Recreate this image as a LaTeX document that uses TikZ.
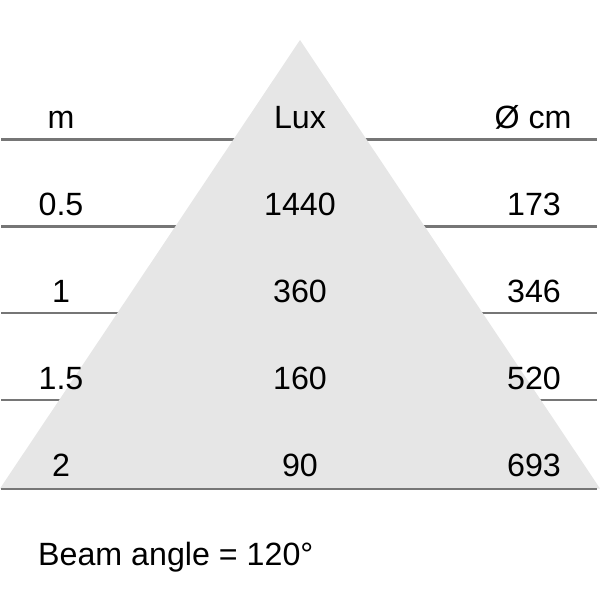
\documentclass[tikz,border=0pt]{standalone}
\usepackage{fontspec}
\setmainfont{Liberation Sans}
\definecolor{rulegray}{RGB}{118,118,118}
\definecolor{beamfill}{RGB}{230,230,230}
\begin{document}
\begin{tikzpicture}[x=1pt,y=-1pt,
  rulel/.style={draw=rulegray,line width=2.2pt},
  beam/.style={fill=beamfill,draw=none},
  lbl/.style={anchor=base,inner sep=0pt,font=\fontsize{32.2}{36}\selectfont}]
\useasboundingbox (0,0) rectangle (600,592);
% horizontal rules (behind the beam)
\foreach \y in {139.5,226.5,313,400}
  \draw[rulel] (1,\y) -- (597,\y);
% beam triangle
\fill[beam] (300,40) -- (0,488.5) -- (600,488.5) -- cycle;
\draw[rulel] (1,489) -- (597,489);
% header row
\node[lbl] (hm)   at (61,128) {m};
\node[lbl] (hlux) at (300,128) {Lux};
\node[lbl] (hcm)  at (533,128) {Ø cm};
% data rows
\node[lbl] (m1) at (61,215) {0.5};
\node[lbl] (l1) at (300,215) {1440};
\node[lbl] (c1) at (534,215) {173};
\node[lbl] (m2) at (61,302) {1};
\node[lbl] (l2) at (300,302) {360};
\node[lbl] (c2) at (534,302) {346};
\node[lbl] (m3) at (61,389) {1.5};
\node[lbl] (l3) at (300,389) {160};
\node[lbl] (c3) at (534,389) {520};
\node[lbl] (m4) at (61,476) {2};
\node[lbl] (l4) at (300,476) {90};
\node[lbl] (c4) at (534,476) {693};
% footer
\node[lbl,anchor=base west] (beamangle) at (38,565) {Beam angle = 120°};
\end{tikzpicture}
\end{document}
